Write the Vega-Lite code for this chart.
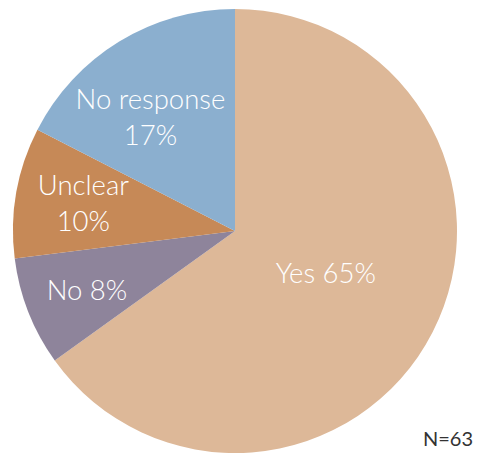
{
  "$schema": "https://vega.github.io/schema/vega-lite/v6.json",
  "autosize": "none",
  "padding": {"left": 13, "top": 9, "right": 20, "bottom": 3},
  "width": 444,
  "height": 444,
  "background": "white",
  "view": {"stroke": null},
  "title": {
    "text": "N=63",
    "orient": "bottom",
    "anchor": "end",
    "offset": -23,
    "dx": 16,
    "fontSize": 20,
    "fontWeight": "normal",
    "font": "Lato",
    "color": "#333333"
  },
  "data": {
    "values": [
      {"answer": "Yes", "count": 41, "rank": 1, "label": "Yes 65%"},
      {"answer": "No", "count": 5, "rank": 2, "label": "No 8%"},
      {"answer": "Unclear", "count": 6, "rank": 3, "label": "Unclear\n10%"},
      {"answer": "No response", "count": 11, "rank": 4, "label": "No response\n17%"}
    ]
  },
  "encoding": {
    "theta": {"field": "count", "type": "quantitative", "stack": true},
    "order": {"field": "rank", "type": "quantitative"}
  },
  "layer": [
    {
      "mark": {"type": "arc", "outerRadius": 222, "strokeWidth": 0},
      "encoding": {
        "color": {
          "field": "answer",
          "type": "nominal",
          "scale": {
            "domain": ["Yes", "No", "Unclear", "No response"],
            "range": ["#DDB898", "#8E849B", "#C68957", "#8BAFCF"]
          },
          "legend": null
        }
      }
    },
    {
      "mark": {"type": "text", "radius": 102, "dy": -3, "lineBreak": "\n", "font": "Lato", "fontSize": 27.5, "fontWeight": 300, "lineHeight": 36, "color": "white", "align": "center", "baseline": "middle"},
      "encoding": {
        "text": {"condition": {"test": "datum.answer === 'Yes'", "field": "label", "type": "nominal"}, "value": ""}
      }
    },
    {
      "mark": {"type": "text", "radius": 159, "dy": 3, "lineBreak": "\n", "font": "Lato", "fontSize": 27.5, "fontWeight": 300, "lineHeight": 36, "color": "white", "align": "center", "baseline": "middle"},
      "encoding": {
        "text": {"condition": {"test": "datum.answer === 'No'", "field": "label", "type": "nominal"}, "value": ""}
      }
    },
    {
      "mark": {"type": "text", "radius": 154, "dy": -17, "lineBreak": "\n", "font": "Lato", "fontSize": 27.5, "fontWeight": 300, "lineHeight": 36, "color": "white", "align": "center", "baseline": "middle"},
      "encoding": {
        "text": {"condition": {"test": "datum.answer === 'Unclear'", "field": "label", "type": "nominal"}, "value": ""}
      }
    },
    {
      "mark": {"type": "text", "radius": 141, "dx": -11, "dy": -10, "lineBreak": "\n", "font": "Lato", "fontSize": 27.5, "fontWeight": 300, "lineHeight": 36, "color": "white", "align": "center", "baseline": "middle"},
      "encoding": {
        "text": {"condition": {"test": "datum.answer === 'No response'", "field": "label", "type": "nominal"}, "value": ""}
      }
    }
  ]
}
